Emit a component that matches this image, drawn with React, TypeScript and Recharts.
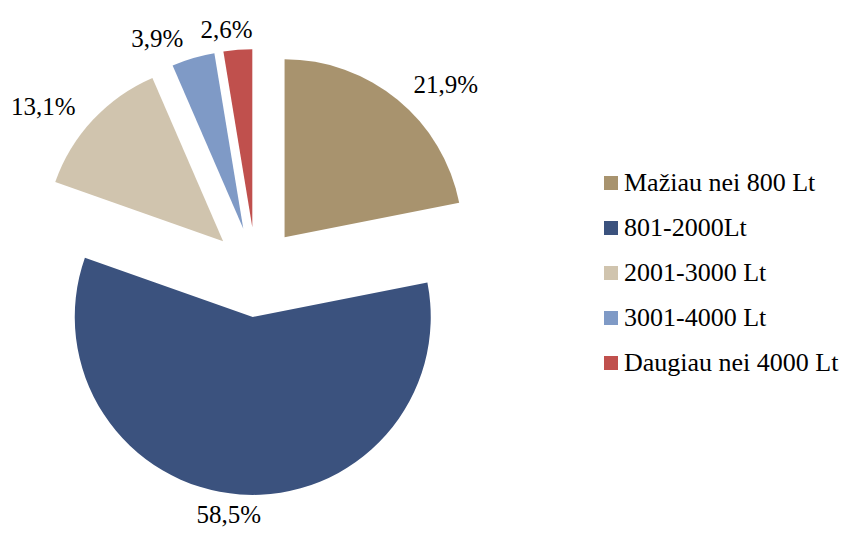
import React from 'react';
import { PieChart, Pie, Cell, Legend, Sector } from 'recharts';

const categories = ['Mažiau nei 800 Lt', '801-2000Lt', '2001-3000 Lt', '3001-4000 Lt', 'Daugiau nei 4000 Lt'];
const shares = [21.9, 58.5, 13.1, 3.9, 2.6];
const colors = ['#A8936E', '#3B527E', '#D0C4AE', '#7F9AC6', '#C0504D'];

const data = categories.map((name, i) => ({ name, value: shares[i] }));

const RAD = Math.PI / 180;
const EXPLODE = 45;
const FONT = '"Liberation Serif", "Times New Roman", serif';

// every slice is pulled out along its own bisector
const ExplodedSlice = (props: any) => {
  const { cx, cy, midAngle, innerRadius, outerRadius, startAngle, endAngle, fill } = props;
  const dx = EXPLODE * Math.cos(-midAngle * RAD);
  const dy = EXPLODE * Math.sin(-midAngle * RAD);
  return (
    <Sector
      cx={cx + dx}
      cy={cy + dy}
      innerRadius={innerRadius}
      outerRadius={outerRadius}
      startAngle={startAngle}
      endAngle={endAngle}
      fill={fill}
      stroke="none"
    />
  );
};

const renderLabel = (props: any) => {
  const { cx, cy, midAngle, outerRadius, value } = props;
  const ux = Math.cos(-midAngle * RAD);
  const uy = Math.sin(-midAngle * RAD);
  const r = EXPLODE + outerRadius + 17;
  const anchor = ux > 0.1 ? 'start' : ux < -0.1 ? 'end' : 'middle';
  const nudge = anchor === 'start' ? 5 : anchor === 'end' ? -5 : -10;
  const x = cx + r * ux + nudge;
  const y = cy + r * uy + uy * 3;
  return (
    <text x={x} y={y} textAnchor={anchor} dominantBaseline="central" fontFamily={FONT} fontSize={25} fill="#000">
      {Number(value).toFixed(1).replace('.', ',')}%
    </text>
  );
};

const LegendContent = () => (
  <div style={{ fontFamily: FONT, fontSize: 26, color: '#000' }}>
    {categories.map((c, i) => (
      <div key={c} style={{ display: 'flex', alignItems: 'center', height: 45, whiteSpace: 'nowrap' }}>
        <span style={{ display: 'inline-block', width: 14, height: 14, background: colors[i], marginRight: 6 }} />
        <span>{c}</span>
      </div>
    ))}
  </div>
);

export default function App() {
  return (
    <div style={{ position: 'absolute', left: 0, top: 0, width: 847, height: 533, background: '#fff' }}>
      <PieChart width={847} height={533} margin={{ top: 0, right: 0, bottom: 0, left: 0 }}>
        <Pie
          data={data}
          dataKey="value"
          nameKey="name"
          cx={256}
          cy={272}
          outerRadius={178}
          startAngle={90}
          endAngle={-270}
          stroke="none"
          labelLine={false}
          label={renderLabel}
          shape={ExplodedSlice}
          activeShape={ExplodedSlice}
          isAnimationActive={false}
        >
          {data.map((d, i) => (
            <Cell key={d.name} fill={colors[i]} />
          ))}
        </Pie>
        <Legend
          layout="vertical"
          content={LegendContent}
          wrapperStyle={{ left: 604, top: 160, width: 243 }}
        />
      </PieChart>
    </div>
  );
}
